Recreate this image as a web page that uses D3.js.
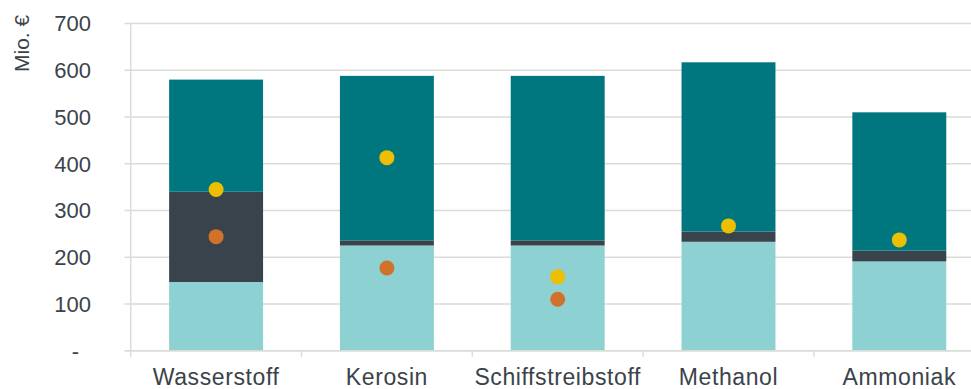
<!DOCTYPE html>
<html>
<head>
<meta charset="utf-8">
<script src="https://cdn.jsdelivr.net/npm/d3@7"></script>
<style>
  body { margin: 0; background: #fff; }
  svg { display: block; font-family: "Liberation Sans", Arial, sans-serif; }
</style>
</head>
<body>
<div class="viz"></div>
<script>
const width = 971;
const height = 389;

// data
const categories = ["Wasserstoff", "Kerosin", "Schiffstreibstoff", "Methanol", "Ammoniak"];
const baseValues = [147, 225, 225, 233, 191];
const midValues = [193, 11, 11, 22, 23];
const topValues = [240, 352, 352, 362, 296];
const yellowDots = [345, 413, 158, 267, 237];
const orangeDots = [244, 177, 110, null, null];
const yTicks = [0, 100, 200, 300, 400, 500, 600, 700];

const colors = ["#8ed1d2", "#39434c", "#00777f"];

const svg = d3.select(".viz")
    .append("svg")
    .attr("width", width)
    .attr("height", height);

const x = d3.scaleBand()
    .domain(categories)
    .range([130.7, 984.7])
    .paddingInner(0.45)
    .paddingOuter(0.225);

const y = d3.scaleLinear()
    .domain([0, 700])
    .range([350.7, 23.5]);

// gridlines
svg.selectAll(".grid")
    .data(yTicks)
    .enter()
    .append("line")
    .attr("x1", 124.5)
    .attr("x2", width)
    .attr("y1", d => y(d))
    .attr("y2", d => y(d))
    .style("stroke", "#d9ddd5")
    .style("stroke-width", "1.5px");

// y axis line
svg.append("line")
    .attr("x1", 130.7).attr("x2", 130.7)
    .attr("y1", y(700)).attr("y2", y(0))
    .style("stroke", "#d9ddd5")
    .style("stroke-width", "1.5px");

// y tick labels (zero shown as accounting dash, set in a bit)
svg.selectAll(".ylab")
    .data(yTicks)
    .enter()
    .append("text")
    .attr("x", d => d === 0 ? 79 : 91)
    .attr("y", d => y(d))
    .attr("dy", "0.36em")
    .attr("text-anchor", "end")
    .text(d => d === 0 ? "-" : d)
    .style("font-size", "22px")
    .style("fill", "#3b434a");

// unit label
svg.append("text")
    .attr("transform", "translate(28.5,72) rotate(-90)")
    .attr("text-anchor", "start")
    .text("Mio. €")
    .style("font-size", "21px")
    .style("fill", "#3b434a");

// stack the bars
const rows = categories.map((c, i) => ({
    cat: c, a: baseValues[i], b: midValues[i], c: topValues[i]
}));
const stack = d3.stack().keys(["a", "b", "c"]);
const series = stack(rows);

svg.selectAll(".layer")
    .data(series)
    .enter()
    .append("g")
    .style("fill", (d, i) => colors[i])
    .selectAll("rect")
    .data(d => d)
    .enter()
    .append("rect")
    .attr("x", d => x(d.data.cat))
    .attr("width", x.bandwidth())
    .attr("y", d => y(d[1]))
    .attr("height", d => y(d[0]) - y(d[1]));

// x axis line + ticks between categories
svg.append("line")
    .attr("x1", 124.5).attr("x2", width)
    .attr("y1", y(0)).attr("y2", y(0))
    .style("stroke", "#d9ddd5")
    .style("stroke-width", "1.5px");

const step = x.step();
svg.selectAll(".xtick")
    .data(d3.range(categories.length + 1))
    .enter()
    .append("line")
    .attr("x1", i => 130.7 + i * step)
    .attr("x2", i => 130.7 + i * step)
    .attr("y1", y(0))
    .attr("y2", y(0) + 6)
    .style("stroke", "#d9ddd5")
    .style("stroke-width", "1.5px");

svg.selectAll(".xlab")
    .data(categories)
    .enter()
    .append("text")
    .attr("x", d => x(d) + x.bandwidth() / 2)
    .attr("y", 385)
    .attr("text-anchor", "middle")
    .text(d => d)
    .style("font-size", "23px")
    .style("letter-spacing", "0.6px")
    .style("fill", "#3b434a");

// dots
const dotData = [];
categories.forEach((c, i) => {
    if (orangeDots[i] != null) dotData.push({ cat: c, v: orangeDots[i], col: "#d2712a" });
    if (yellowDots[i] != null) dotData.push({ cat: c, v: yellowDots[i], col: "#ecbf00" });
});

svg.selectAll(".dot")
    .data(dotData)
    .enter()
    .append("circle")
    .attr("cx", d => x(d.cat) + x.bandwidth() / 2)
    .attr("cy", d => y(d.v))
    .attr("r", 7.5)
    .style("fill", d => d.col);
</script>
</body>
</html>
